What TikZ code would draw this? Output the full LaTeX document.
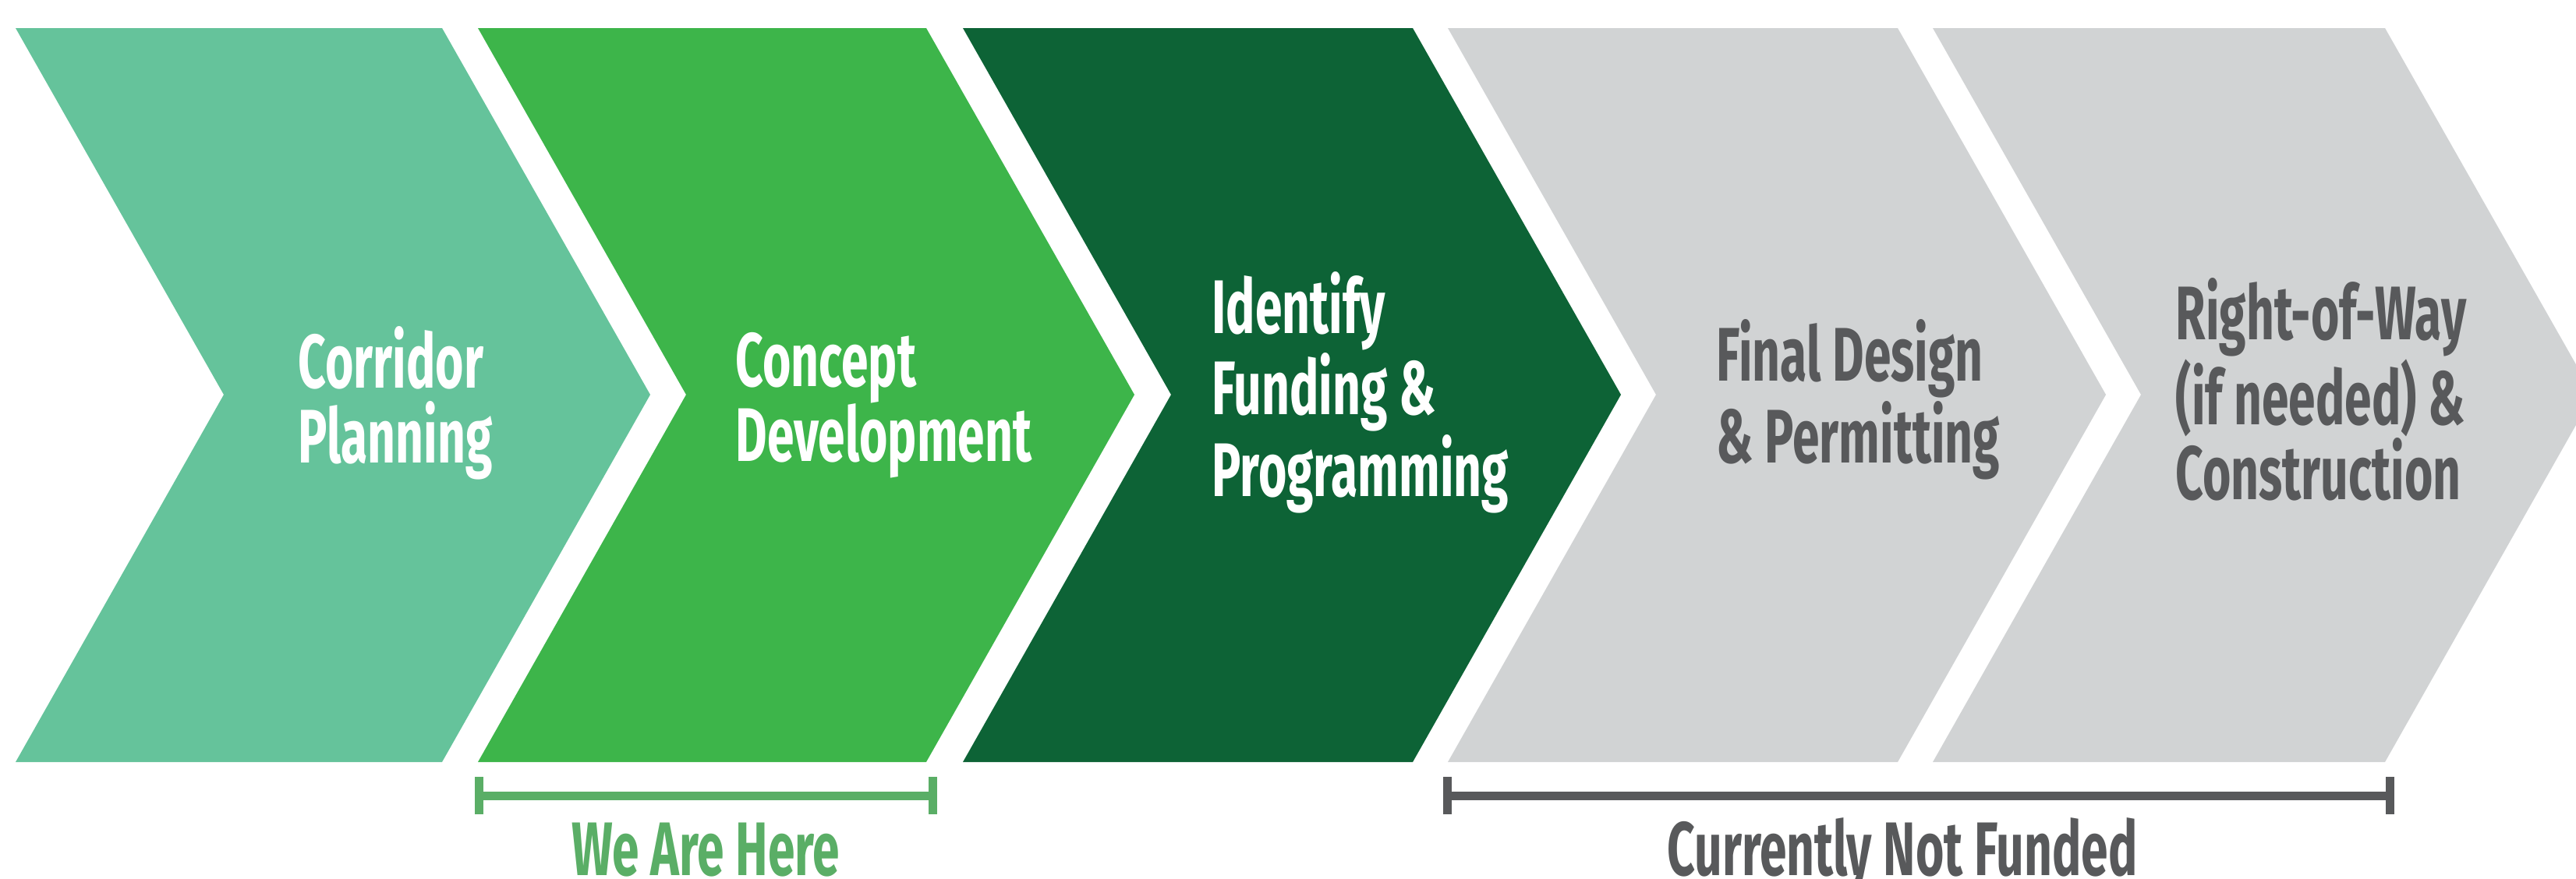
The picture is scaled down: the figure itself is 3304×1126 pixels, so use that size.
\documentclass[tikz,border=0pt]{standalone}
\usepackage{fontspec}
\usepackage{tikz}
\usetikzlibrary{arrows.meta}
\newfontfamily\stagefont[FakeStretch=0.64]{Fira Sans}
\definecolor{corridorgreen}{RGB}{101,195,155}
\definecolor{conceptgreen}{RGB}{61,181,74}
\definecolor{fundinggreen}{RGB}{13,99,54}
\definecolor{pendinggray}{RGB}{209,211,212}
\definecolor{textgray}{RGB}{88,89,91}
\definecolor{heregreen}{RGB}{90,174,102}

\begin{document}
\begin{tikzpicture}[x=0.01cm,y=-0.01cm,
    stagetext/.style={anchor=base west, align=left, inner sep=0pt,
        font=\stagefont\bfseries\fontsize{27.7}{27.3}\selectfont},
    barlabel/.style={anchor=base, inner sep=0pt,
        font=\stagefont\bfseries\fontsize{27.7}{27.3}\selectfont},
    spanbar/.style={line width=0.11cm, {Bar[width=0.48cm]}-{Bar[width=0.48cm]}}]
    \useasboundingbox (0,0) rectangle (3304,1126);
    % the five stages
    \fill[corridorgreen] (20,36) -- (567,36) -- (834,506) -- (567,977) -- (20,977) -- (287,506) -- cycle;
    \fill[conceptgreen] (613,36) -- (1188,36) -- (1455,506) -- (1188,977) -- (613,977) -- (880,506) -- cycle;
    \fill[fundinggreen] (1235,36) -- (1812,36) -- (2079,506) -- (1812,977) -- (1235,977) -- (1502,506) -- cycle;
    \fill[pendinggray] (1857,36) -- (2434,36) -- (2701,506) -- (2434,977) -- (1857,977) -- (2124,506) -- cycle;
    \fill[pendinggray] (2479,36) -- (3059,36) -- (3326,506) -- (3059,977) -- (2479,977) -- (2746,506) -- cycle;
    % base anchor sits on the last line
    \node[stagetext, white] (corridor) at (382,593) {Corridor\\Planning};
    \node[stagetext, white] (concept) at (943,591) {Concept\\Development};
    \node[stagetext, white] (funding) at (1554,636) {Identify\\Funding \&\\Programming};
    \node[stagetext, textgray] (design) at (2201,593) {Final Design\\\& Permitting};
    \node[stagetext, textgray] (rightofway) at (2790,640) {Right-of-Way\\(if needed) \&\\Construction};
    % spans underneath
    \coordinate (hereL) at (609,1020);
    \coordinate (hereR) at (1202,1020);
    \draw[spanbar, heregreen] (hereL) -- (hereR);
    \node[barlabel, heregreen] (here) at (905,1122) {We Are Here};
    \coordinate (unfundedL) at (1851,1020);
    \coordinate (unfundedR) at (3071,1020);
    \draw[spanbar, textgray] (unfundedL) -- (unfundedR);
    \node[barlabel, textgray] (unfunded) at (2440,1122) {Currently Not Funded};
\end{tikzpicture}
\end{document}
